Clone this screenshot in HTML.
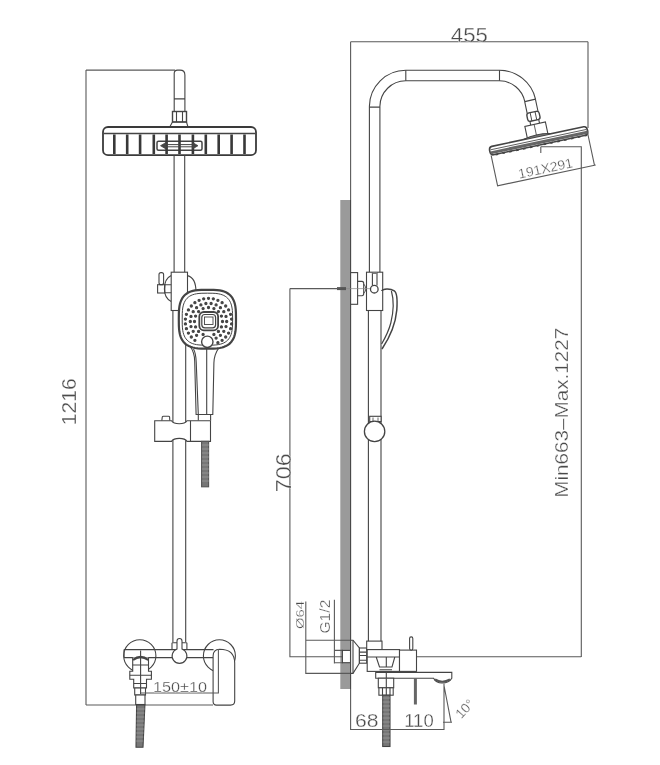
<!DOCTYPE html>
<html><head><meta charset="utf-8">
<style>
html,body{margin:0;padding:0;background:#fff;}
body{width:660px;height:765px;overflow:hidden;}
svg{display:block;}
text{font-family:"Liberation Sans",sans-serif;fill:#4a4a4a;stroke:#fff;stroke-width:0.3px;paint-order:normal;}
svg{filter:grayscale(1);}
</style></head>
<body>
<svg width="660" height="765" viewBox="0 0 660 765">
<g fill="none" stroke="#444" stroke-width="1.1">

<!-- ============ LEFT DRAWING ============ -->
<!-- dimension 1216 -->
<path d="M86 70.1V705 M86 705H213 M86 70.1H175" stroke="#5a5a5a"/>
<text x="0" y="0" font-size="21" transform="translate(75.5 401.75) rotate(-90)" text-anchor="middle" textLength="47" lengthAdjust="spacingAndGlyphs">1216</text>

<!-- top pipe -->
<path d="M174.2 111.2 V73.5 Q174.2 70.1 177.5 70.1 H180 Q184.9 70.1 184.9 75 V111.2 M174.2 98.9H184.9"/>
<!-- nut -->
<rect x="172.5" y="111.5" width="14" height="10.5" stroke-width="1.4"/>
<path d="M176.5 111.5V122 M182.5 111.5V122"/>
<path d="M169.7 127 L172.5 122 H186.5 L188 127"/>
<!-- head -->
<rect x="103" y="127" width="153" height="28.2" rx="5" stroke-width="1.8" stroke="#3a3a3a"/>
<path d="M104 133.5H255" stroke-width="1.3"/>
<rect x="157" y="141.2" width="45" height="9" rx="1.5" fill="#fff" stroke-width="1.5"/>
<g stroke-width="2.6" stroke="#383838">
<path d="M114.3 134.5V154 M127.2 134.5V154 M140.1 134.5V154 M153.8 134.5V154 M166.6 134.5V154 M179.5 134.5V154 M192.9 134.5V154 M205.8 134.5V154 M218.7 134.5V154 M231.6 134.5V154 M244.5 134.5V154"/>
</g>
<path d="M160.5 145.7 L166 142.5 V149 Z M198 145.7 L192.5 142.5 V149 Z" fill="#444" stroke-width="0.8"/>
<path d="M166 144.6H192.5 M166 146.8H192.5" stroke-width="1"/>
<!-- rail -->
<path d="M174.1 155V272.2 M184.7 155V272.2 M172.9 310.5V642 M185.7 310.5V642"/>

<!-- slider bracket with knob -->
<path d="M187.5 275.6 C193 277 196 283 196 292 C196 300 193 304 187.5 306"/>
<path d="M171.2 275.6 C166 278 164.4 284 164.4 289 C164.4 295 166 299 171.2 301.4"/>
<rect x="171.2" y="272.2" width="16.3" height="38.3" fill="#fff"/>
<rect x="157.6" y="284.7" width="7.2" height="8.3"/>
<path d="M164.8 284.7 H171.2 M164.8 292.7 H171.2"/>
<rect x="159" y="272.6" width="4.6" height="12.1" rx="2"/>
<!-- hand shower handle -->
<path d="M190 346 C193.5 351 194.6 355 194.7 361 L196.1 414.5 H212.8 L213.9 363 C214 357 215 353 219.5 347" fill="#fff"/>
<path d="M193.5 349 C195.8 353 196 357 196.2 362 L198.3 414.5 M206.7 349 V414.5"/>
<path d="M198.3 414.5 V420.5 M210.6 414.5 V420.5"/>
<!-- hand shower head -->
<path d="M236.00 319.20 L235.93 325.60 L235.73 329.04 L235.39 331.83 L234.91 334.24 L234.29 336.36 L233.54 338.26 L232.65 339.97 L231.61 341.50 L230.43 342.87 L229.10 344.09 L227.61 345.15 L225.94 346.07 L224.09 346.85 L222.03 347.48 L219.69 347.97 L216.98 348.32 L213.62 348.53 L207.40 348.60 L201.18 348.53 L197.82 348.32 L195.11 347.97 L192.77 347.48 L190.71 346.85 L188.86 346.07 L187.19 345.15 L185.70 344.09 L184.37 342.87 L183.19 341.50 L182.15 339.97 L181.26 338.26 L180.51 336.36 L179.89 334.24 L179.41 331.83 L179.07 329.04 L178.87 325.60 L178.80 319.20 L178.87 312.80 L179.07 309.36 L179.41 306.57 L179.89 304.16 L180.51 302.04 L181.26 300.14 L182.15 298.43 L183.19 296.90 L184.37 295.53 L185.70 294.31 L187.19 293.25 L188.86 292.33 L190.71 291.55 L192.77 290.92 L195.11 290.43 L197.82 290.08 L201.18 289.87 L207.40 289.80 L213.62 289.87 L216.98 290.08 L219.69 290.43 L222.03 290.92 L224.09 291.55 L225.94 292.33 L227.61 293.25 L229.10 294.31 L230.43 295.53 L231.61 296.90 L232.65 298.43 L233.54 300.14 L234.29 302.04 L234.91 304.16 L235.39 306.57 L235.73 309.36 L235.93 312.80 Z" fill="#fff" stroke-width="2.2" stroke-linejoin="round"/>
<path d="M232.60 319.20 L232.54 324.86 L232.36 327.90 L232.06 330.37 L231.64 332.50 L231.10 334.38 L230.43 336.06 L229.65 337.57 L228.73 338.92 L227.69 340.14 L226.52 341.21 L225.20 342.15 L223.74 342.96 L222.11 343.65 L220.29 344.21 L218.23 344.64 L215.84 344.95 L212.88 345.14 L207.40 345.20 L201.92 345.14 L198.96 344.95 L196.57 344.64 L194.51 344.21 L192.69 343.65 L191.06 342.96 L189.60 342.15 L188.28 341.21 L187.11 340.14 L186.07 338.92 L185.15 337.57 L184.37 336.06 L183.70 334.38 L183.16 332.50 L182.74 330.37 L182.44 327.90 L182.26 324.86 L182.20 319.20 L182.26 313.54 L182.44 310.50 L182.74 308.03 L183.16 305.90 L183.70 304.02 L184.37 302.34 L185.15 300.83 L186.07 299.48 L187.11 298.26 L188.28 297.19 L189.60 296.25 L191.06 295.44 L192.69 294.75 L194.51 294.19 L196.57 293.76 L198.96 293.45 L201.92 293.26 L207.40 293.20 L212.88 293.26 L215.84 293.45 L218.23 293.76 L220.29 294.19 L222.11 294.75 L223.74 295.44 L225.20 296.25 L226.52 297.19 L227.69 298.26 L228.73 299.48 L229.65 300.83 L230.43 302.34 L231.10 304.02 L231.64 305.90 L232.06 308.03 L232.36 310.50 L232.54 313.54 Z" stroke-width="1"/>
<g fill="#444" ><circle cx="208.5" cy="298.3" r="1.1"/><circle cx="213.3" cy="298.8" r="1.1"/><circle cx="217.9" cy="300.3" r="1.1"/><circle cx="222.1" cy="302.7" r="1.1"/><circle cx="225.7" cy="306.0" r="1.1"/><circle cx="228.6" cy="309.9" r="1.1"/><circle cx="230.6" cy="314.3" r="1.1"/><circle cx="231.6" cy="319.1" r="1.1"/><circle cx="231.6" cy="323.9" r="1.1"/><circle cx="230.6" cy="328.7" r="1.1"/><circle cx="228.6" cy="333.1" r="1.1"/><circle cx="225.7" cy="337.0" r="1.1"/><circle cx="222.1" cy="340.3" r="1.1"/><circle cx="217.9" cy="342.7" r="1.1"/><circle cx="194.9" cy="340.3" r="1.1"/><circle cx="191.3" cy="337.0" r="1.1"/><circle cx="188.4" cy="333.1" r="1.1"/><circle cx="186.4" cy="328.7" r="1.1"/><circle cx="185.4" cy="323.9" r="1.1"/><circle cx="185.4" cy="319.1" r="1.1"/><circle cx="186.4" cy="314.3" r="1.1"/><circle cx="188.4" cy="309.9" r="1.1"/><circle cx="191.3" cy="306.0" r="1.1"/><circle cx="194.9" cy="302.7" r="1.1"/><circle cx="199.1" cy="300.3" r="1.1"/><circle cx="203.7" cy="298.8" r="1.1"/><circle cx="211.1" cy="303.5" r="1.1"/><circle cx="216.1" cy="304.9" r="1.1"/><circle cx="220.4" cy="307.7" r="1.1"/><circle cx="223.8" cy="311.7" r="1.1"/><circle cx="226.0" cy="316.4" r="1.1"/><circle cx="226.7" cy="321.5" r="1.1"/><circle cx="226.0" cy="326.6" r="1.1"/><circle cx="223.8" cy="331.3" r="1.1"/><circle cx="220.4" cy="335.3" r="1.1"/><circle cx="216.1" cy="338.1" r="1.1"/><circle cx="196.6" cy="335.3" r="1.1"/><circle cx="193.2" cy="331.3" r="1.1"/><circle cx="191.0" cy="326.6" r="1.1"/><circle cx="190.3" cy="321.5" r="1.1"/><circle cx="191.0" cy="316.4" r="1.1"/><circle cx="193.2" cy="311.7" r="1.1"/><circle cx="196.6" cy="307.7" r="1.1"/><circle cx="200.9" cy="304.9" r="1.1"/><circle cx="205.9" cy="303.5" r="1.1"/><circle cx="208.5" cy="307.5" r="1.1"/><circle cx="213.9" cy="308.6" r="1.1"/><circle cx="218.4" cy="311.6" r="1.1"/><circle cx="221.4" cy="316.1" r="1.1"/><circle cx="222.5" cy="321.5" r="1.1"/><circle cx="221.4" cy="326.9" r="1.1"/><circle cx="218.4" cy="331.4" r="1.1"/><circle cx="213.9" cy="334.4" r="1.1"/><circle cx="203.1" cy="334.4" r="1.1"/><circle cx="198.6" cy="331.4" r="1.1"/><circle cx="195.6" cy="326.9" r="1.1"/><circle cx="194.5" cy="321.5" r="1.1"/><circle cx="195.6" cy="316.1" r="1.1"/><circle cx="198.6" cy="311.6" r="1.1"/><circle cx="203.1" cy="308.6" r="1.1"/></g>
<rect x="199.3" y="312" width="18.8" height="18.3" rx="4.5" stroke-width="1.8"/>
<rect x="201.8" y="314.5" width="13.8" height="13.3" rx="3" stroke-width="1.2"/>
<rect x="204.5" y="317" width="8.5" height="7.5" fill="#fff" stroke-width="0.9"/>
<circle cx="207.3" cy="341.8" r="5.7" fill="#fff" stroke-width="1.4"/>

<!-- holder bracket -->
<path d="M161.8 420.8 L162.3 416.8 Q162.5 416.2 163.5 416.2 H168.5 Q169.5 416.2 169.6 417 L169.8 420.8" />
<path d="M154.7 420.8 H171.5 C174 424.8 184.5 424.8 187 420.8 H210.5 V441.4 H187 C184.5 437.4 174 437.4 171.5 441.4 H154.7 Z" fill="#fff"/>
<path d="M190.5 420.8V441.4"/>
<!-- hose -->
<rect x="201.6" y="441.4" width="7" height="45.4" fill="#777" stroke="#555"/>
<path d="M202 445H209 M202 449H209 M202 453H209 M202 457H209 M202 461H209 M202 465H209 M202 469H209 M202 473H209 M202 477H209 M202 481H209" stroke="#aaa" stroke-width="0.6"/>

<!-- bottom mixer -->
<circle cx="139.8" cy="655.8" r="16.1"/>
<circle cx="219.4" cy="655.8" r="16"/>
<path d="M124 649.6 H213.5 M124 657.6 H172.5 M186 657.6 H213.5 M124 649.6 V657.6"/>
<path d="M172 642.7 V649.6 M186.9 642.7 V649.6 M172 642.7 H177 M182 642.7 H186.9"/>
<path d="M177 649 V641 A2.5 2.5 0 0 1 182 641 V649 A7.4 7.4 0 1 1 177 649 Z" fill="#fff"/>
<!-- diverter -->
<path d="M132.7 657.6 V671.3 H129.8 V679.2 H133.7 V688 H146.5 V679.2 H151.4 V671.3 H148.5 V657.6" fill="#fff"/>
<path d="M133 660 Q140.5 654 148.3 660" stroke-width="2.2"/>
<path d="M132.7 665 H148.5 M129.8 675.2 H151.4 M133.7 683.5 H146.5"/>
<rect x="134.7" y="688" width="10.8" height="7" fill="#fff"/>
<rect x="135.7" y="695" width="9.3" height="9.5" fill="#fff"/>
<path d="M140.6 650.6 V694"/>
<path d="M136.6 705 L144.9 705 L143 747.3 L136 747.3 Z" fill="#777"/>
<path d="M136.6 709H144.7 M136.5 713H144.6 M136.5 717H144.4 M136.4 721H144.2 M136.4 725H144 M136.3 729H143.9 M136.2 733H143.7 M136.2 737H143.5 M136.1 741H143.3" stroke="#aaa" stroke-width="0.6"/>
<!-- spout right -->
<path d="M213.1 701.5 V656 Q213.1 649.5 219.5 649.2 Q234.7 649.2 234.7 663 V701 Q234.7 705.1 230.5 705.1 H216.5 Q213.1 705.1 213.1 701.5 Z" fill="#fff"/>
<!-- dim 150±10 -->
<path d="M140.6 693 H218.4 V649" stroke="#5a5a5a"/>
<text x="180" y="692" font-size="14.4" text-anchor="middle" textLength="54" lengthAdjust="spacingAndGlyphs">150±10</text>
<!-- ============ RIGHT DRAWING ============ -->
<!-- dim 455 -->
<path d="M350.6 41.7 H588 M350.6 41.7 V200 M588 41.7 V128" stroke="#5a5a5a"/>
<text x="469.35" y="41.8" font-size="20" text-anchor="middle" textLength="37" lengthAdjust="spacingAndGlyphs">455</text>

<!-- pole & top bend -->
<path d="M369.4 272.2 V106.3 A36.4 36.4 0 0 1 405.8 70.3 H499.5 A37 37 0 0 1 535.5 99.1 M368.4 310.5 V642"/>
<path d="M379.9 272.2 V106.3 A25.9 25.9 0 0 1 405.8 80.8 H499.5 A26 26 0 0 1 524.8 101.6 M381 310.5 V642"/>
<path d="M369.4 107.1 H379.9 M405.8 70.3 V80.8 M499.5 70.3 V80.8 M524.8 101.6 L535.5 99.1"/>

<!-- shower head group (rotated) -->
<g transform="translate(538.65 140.8) rotate(-12)">
<path d="M-5.5 -41.5 V-29.3 M5.5 -41.5 V-29.3"/>
<rect x="-6.3" y="-29.3" width="12.6" height="8.5" rx="2.5" fill="#fff" stroke-width="1.4"/>
<path d="M-2.5 -29.3 V-20.8 M2.5 -29.3 V-20.8" stroke-width="0.9"/>
<path d="M-4.5 -20.8 V-17 M4.5 -20.8 V-17"/>
<path d="M-10.5 -4.3 V-17 H10.5 V-4.3" fill="#fff"/>
<path d="M-1 -17 V-4.5" stroke-width="0.8"/>
<path d="M-47 -4.3 H47 Q50 -4.3 50 0 Q50 4.3 47 4.3 H-47 Q-50 4.3 -50 0 Q-50 -4.3 -47 -4.3 Z" fill="#fff" stroke-width="1.6"/>
<path d="M-49.5 1.8 H49.5" stroke-width="3" stroke="#666"/>
<path d="M-49 -1.2 H49" stroke-width="0.8"/>
<path d="M-14 -4.5 Q0 -8 14 -4.5" fill="#777" stroke-width="1"/>
<path d="M-45.0 4.6 h2.6 M-38.0 4.6 h2.6 M-31.0 4.6 h2.6 M-24.0 4.6 h2.6 M-17.0 4.6 h2.6 M-10.0 4.6 h2.6 M-3.0 4.6 h2.6 M4.0 4.6 h2.6 M11.0 4.6 h2.6 M18.0 4.6 h2.6 M25.0 4.6 h2.6 M32.0 4.6 h2.6 M39.0 4.6 h2.6 M46.0 4.6 h2.6" stroke-width="1.8" stroke="#444"/>
<path d="M-49.5 4.3 V35.5 H50.8 M49.5 0 V35.5" stroke="#5a5a5a"/>
<text x="1" y="33" font-size="13.5" text-anchor="middle" textLength="55.5" lengthAdjust="spacingAndGlyphs">191X291</text>
</g>
<path d="M540.8 146.8 V152.9" stroke="#5a5a5a"/>
<!-- leader to min/max -->
<path d="M540.8 146.8 H581.3 V657" stroke="#5a5a5a"/>
<text x="0" y="0" font-size="18" transform="translate(567.9 412.8) rotate(-90)" text-anchor="middle" textLength="170" lengthAdjust="spacingAndGlyphs">Min663–Max.1227</text>

<!-- wall -->
<rect x="340.3" y="200" width="10.3" height="489" fill="#9a9a9a" stroke="none"/>
<path d="M350.6 200V689"/>

<!-- wall bracket + slider -->
<rect x="350.6" y="272.6" width="7" height="31.7" fill="#fff"/>
<path d="M357.6 281.4 H362 Q363.7 281.4 363.7 283.5 V293.6 Q363.7 295.7 362 295.7 H357.6"/>
<path d="M337 288.6 H346" stroke-width="3" stroke="#555"/>
<path d="M363.7 284 Q368 288.6 363.7 293.5 M368.5 284 Q364.5 288.6 368.5 293.5" stroke-width="0.9"/>
<rect x="366.5" y="272.2" width="16.2" height="38.3" fill="#fff"/>
<path d="M372.4 272.2 V285.5 M377 272.2 V285.5"/>
<path d="M372.4 273 H377" stroke-width="2" stroke="#777"/>
<circle cx="374.3" cy="289.2" r="3.8" fill="#fff" stroke-width="1.3"/>
<path d="M346 288.6 H370" stroke-width="0.7" stroke="#888"/>
<!-- hand shower side -->
<path d="M381.6 291 C383 288.5 390 288 394.3 290.9 C397.5 293 397.5 300 396.8 310 C395.5 325 388 340 382 349" stroke-width="1.5"/>
<path d="M391.4 291 C394 300 393.5 312 390.8 323 C388.5 332 384.5 339 381.6 344" stroke-width="1.2"/>
<!-- lower ball -->
<rect x="369.7" y="416.3" width="11.4" height="5.3" fill="#fff"/>
<path d="M373 417.5 V421 M378 417.5 V421" stroke-width="0.8"/>
<circle cx="374.6" cy="431.4" r="10.2" fill="#fff" stroke-width="1.3"/>

<!-- dim 706 -->
<path d="M289.9 288.6 H341 M289.9 288.6 V656.7 H581.2" stroke="#5a5a5a"/>
<text x="0" y="0" font-size="21.4" transform="translate(290.5 472.8) rotate(-90)" text-anchor="middle" textLength="39" lengthAdjust="spacingAndGlyphs">706</text>

<!-- Ø64 / G1/2 -->
<path d="M305.8 601.4 V674 M305.8 640.2 H351 M305.8 673.4 H351" stroke="#5a5a5a"/>
<text x="0" y="0" font-size="11.5" transform="translate(303.6 614.9) rotate(-90)" text-anchor="middle" textLength="28" lengthAdjust="spacingAndGlyphs">Ø64</text>
<path d="M334.4 599.8 V663.5 M334.4 650.4 H343 M334.4 662.7 H343" stroke="#5a5a5a"/>
<text x="0" y="0" font-size="13.8" transform="translate(329.5 616.6) rotate(-90)" text-anchor="middle" textLength="34" lengthAdjust="spacingAndGlyphs">G1/2</text>

<!-- stub & escutcheon -->
<rect x="342.4" y="650.4" width="8.1" height="12.3" fill="#fff"/>
<path d="M350.6 640.2 H353 L359.4 647.9 V663.2 L353 673.4 H350.6 Z" fill="#fff"/>
<path d="M353 640.2 V673.4"/>
<rect x="359.4" y="648" width="7.3" height="15.2" fill="#fff"/>
<path d="M359.4 652.1H366.7 M359.4 655.5H366.7 M359.4 660.2H366.7"/>
<!-- mixer body -->
<rect x="366.7" y="641.1" width="15.3" height="8.5" fill="#fff"/>
<rect x="367.2" y="649.6" width="32.3" height="21.8" fill="#fff"/>
<path d="M367.2 657 H399.5 M376.2 657 L379.5 667 H392 L394.8 657 M379.5 669.8 H392 M386.3 657 V667"/>
<rect x="399.5" y="650.1" width="17" height="21.3" fill="#fff"/>
<rect x="409.6" y="636.9" width="3.2" height="13.2" rx="1.5" fill="#fff"/>
<!-- spout -->
<path d="M375.7 672.4 H451.8 V678.2 Q449 683 442 683 Q436 683 433.6 678.2 H375.7 Z" fill="#fff"/>
<path d="M435 679.5 Q442 684 450 679.5" stroke-width="2.2" stroke="#555"/>
<path d="M386.3 678.2 V672.4"/>
<rect x="413.9" y="678.2" width="3" height="26.3" fill="#666" stroke="none"/>
<!-- diverter + hose -->
<rect x="378.3" y="678.2" width="15.4" height="9.6" fill="#fff"/>
<rect x="378.9" y="687.8" width="14.3" height="7.4" fill="#fff"/>
<path d="M382.5 687.8V695.2 M386.3 678.2V695.2 M390 687.8V695.2"/>
<rect x="382.7" y="695.2" width="7.3" height="51.3" fill="#777"/>
<path d="M382.7 698H390 M382.7 702H390 M382.7 706H390 M382.7 710H390 M382.7 714H390 M382.7 718H390 M382.7 722H390 M382.7 726H390 M382.7 730H390 M382.7 734H390 M382.7 738H390 M382.7 742H390" stroke="#aaa" stroke-width="0.6"/>

<!-- dims 68 / 110 / 10° -->
<path d="M350.6 689 V729.5 H444 V683.5 M444 685.5 L451 721.8 M443 722.2 H452" stroke="#5a5a5a"/>
<text x="366.75" y="726.5" font-size="18.6" text-anchor="middle" textLength="23.5" lengthAdjust="spacingAndGlyphs">68</text>
<text x="418.95" y="726.5" font-size="18.6" text-anchor="middle" textLength="29.5" lengthAdjust="spacingAndGlyphs">110</text>
<text x="0" y="5" font-size="13.5" transform="translate(464.5 708.5) rotate(-47)" text-anchor="middle">10°</text>
</g>
</svg>
</body></html>
